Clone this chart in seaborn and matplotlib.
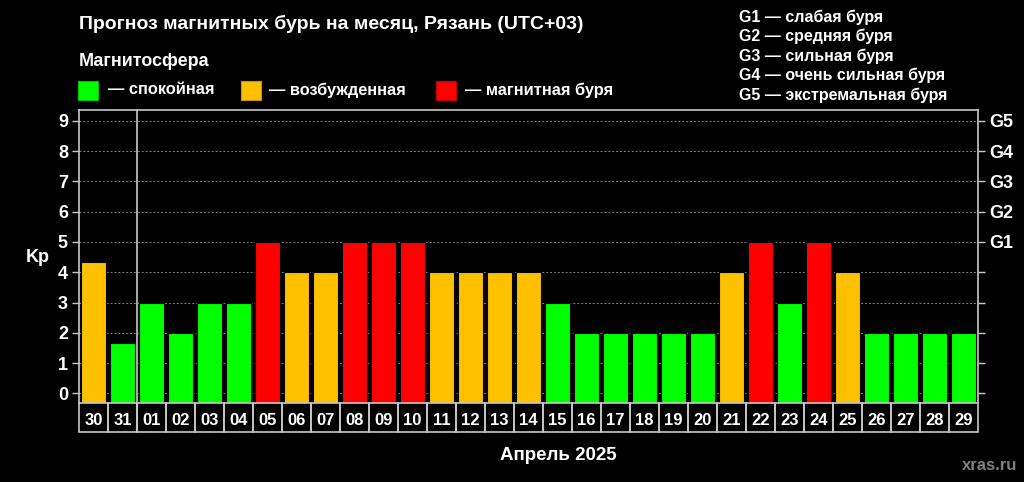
import matplotlib
matplotlib.use("Agg")
import matplotlib.pyplot as plt
import matplotlib.transforms as mtransforms
from matplotlib.patches import Rectangle
import seaborn as sns

# Kp forecast, Ryazan, April 2025 (two last days of March first)
days = ['30', '31', '01', '02', '03', '04', '05', '06', '07', '08', '09',
        '10', '11', '12', '13', '14', '15', '16', '17', '18', '19', '20',
        '21', '22', '23', '24', '25', '26', '27', '28', '29']
kp = [4.33, 1.67, 3, 2, 3, 3, 5, 4, 4, 5, 5,
      5, 4, 4, 4, 4, 3, 2, 2, 2, 2, 2,
      4, 5, 3, 5, 4, 2, 2, 2, 2]
states = ['спокойная', 'возбужденная', 'магнитная буря']
g_labels = ['G1', 'G2', 'G3', 'G4', 'G5']
g_names = ['слабая буря', 'средняя буря', 'сильная буря',
           'очень сильная буря', 'экстремальная буря']

palette = {'спокойная': '#00ff00', 'возбужденная': '#ffc000',
           'магнитная буря': '#ff0000'}
legend_edge = {'спокойная': '#00c000', 'возбужденная': '#d09000',
               'магнитная буря': '#c00000'}


def state_of(v):
    if v >= 5:
        return 'магнитная буря'
    if v >= 4:
        return 'возбужденная'
    return 'спокойная'


day_state = [state_of(v) for v in kp]

sns.set_theme(style="dark", rc={
    'figure.facecolor': 'black', 'axes.facecolor': 'black',
    'savefig.facecolor': 'black', 'text.color': 'white',
    'xtick.color': 'white', 'ytick.color': 'white',
    'axes.labelcolor': 'white',
})
plt.rcParams['font.family'] = ['Liberation Sans', 'DejaVu Sans']
plt.rcParams['font.weight'] = 'bold'

edge = '#c8c8c8'
ymin, ymax = -0.32, 9.36

fig = plt.figure(figsize=(10.24, 4.82), dpi=100)
ax = fig.add_axes([79 / 1024, 1 - 403 / 482, 899 / 1024, 293 / 482])

ax.yaxis.grid(True, color='#808080', linestyle=(0, (2, 2)), linewidth=0.7)
ax.set_axisbelow(True)

sns.barplot(x=days, y=kp, hue=day_state, hue_order=states, palette=palette,
            order=days, dodge=False, width=0.88, legend=False,
            edgecolor='black', linewidth=0.8, saturation=1, ax=ax)

# bars start at the bottom of the plot, not at zero
for p in ax.patches:
    top = p.get_y() + p.get_height()
    p.set_y(ymin)
    p.set_height(top - ymin)

ax.set_ylim(ymin, ymax)
ax.set_xlim(-0.5, len(days) - 0.5)
ax.set_yticks(range(10))
ax.tick_params(axis='y', length=5, width=1, color=edge, pad=3, labelsize=13)
ax.set_xlabel('')
ax.set_ylabel('')

ax.set_xticks(range(len(days)))
ax.set_xticklabels(days, fontsize=12, fontweight='bold')
ax.tick_params(axis='x', length=0, pad=7)

for side in ['left', 'top', 'right']:
    ax.spines[side].set_visible(True)
    ax.spines[side].set_color(edge)
    ax.spines[side].set_linewidth(1.2)
ax.spines['bottom'].set_visible(False)

# right axis with storm levels
ax2 = ax.twinx()
ax2.set_ylim(ymin, ymax)
ax2.set_yticks(range(10))
ax2.set_yticklabels([''] * 5 + g_labels)
ax2.tick_params(axis='y', length=5, width=1, color=edge, pad=3, labelsize=13)
for s in ax2.spines.values():
    s.set_visible(False)
ax2.grid(False)

# day boxes under the plot
trans = mtransforms.blended_transform_factory(ax.transData, ax.transAxes)
box_h = 29 / 293
for i in range(len(days)):
    ax.add_patch(Rectangle((i - 0.5, -box_h), 1, box_h, transform=trans,
                           fill=False, edgecolor=edge, linewidth=1.2,
                           clip_on=False))
# month boundary
ax.plot([1.5, 1.5], [-box_h, 1], transform=trans, color=edge,
        linewidth=1.2, clip_on=False)

# texts
fig.text(79 / 1024, 1 - 24 / 482, 'Прогноз магнитных бурь на месяц, Рязань (UTC+03)',
         fontsize=14, fontweight='bold', va='center')
fig.text(79 / 1024, 1 - 61 / 482, 'Магнитосфера', fontsize=13,
         fontweight='bold', va='center')

legend_x = [(78, 108), (241, 269), (436, 465)]
for (px, tx), st in zip(legend_x, states):
    fig.patches.append(Rectangle((px / 1024, 1 - 100 / 482), 20 / 1024, 19 / 482,
                                 transform=fig.transFigure, facecolor=palette[st],
                                 edgecolor=legend_edge[st], linewidth=0.8))
    fig.text(tx / 1024, 1 - 90 / 482, '— ' + st, fontsize=11.8,
             fontweight='bold', va='center')

for k, (g, name) in enumerate(zip(g_labels, g_names)):
    fig.text(739 / 1024, 1 - (17 + 19.5 * k) / 482, f'{g} — {name}',
             fontsize=11.5, fontweight='bold', va='center')

fig.text(26 / 1024, 1 - 258 / 482, 'Kp', fontsize=13, fontweight='bold',
         va='center')
fig.text(558 / 1024, 1 - 455 / 482, 'Апрель 2025', fontsize=13.5,
         fontweight='bold', ha='center', va='center')
fig.text(1017 / 1024, 1 - 465 / 482, 'xras.ru', fontsize=12,
         fontweight='bold', ha='right', va='center', color='#7f7f7f')

fig.savefig('out.png', dpi=100, facecolor='black')
